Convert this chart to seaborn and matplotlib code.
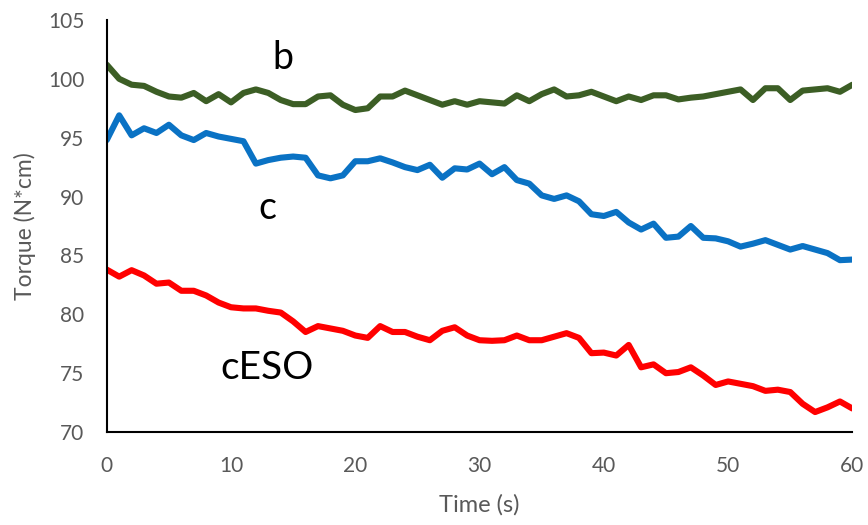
import numpy as np
import pandas as pd
import matplotlib
matplotlib.use("Agg")
import matplotlib.pyplot as plt
import seaborn as sns
from matplotlib.ticker import MultipleLocator

time_s = list(range(0, 61))

torque_b = [101.2, 100.0, 99.5, 99.4, 98.9, 98.5, 98.4, 98.8, 98.1, 98.7,
            98.0, 98.8, 99.1, 98.8, 98.2, 97.85, 97.85, 98.5, 98.6, 97.8,
            97.35, 97.5, 98.5, 98.5, 99.0, 98.6, 98.2, 97.8, 98.1, 97.8,
            98.1, 98.0, 97.9, 98.6, 98.1, 98.7, 99.1, 98.5, 98.6, 98.9,
            98.5, 98.1, 98.5, 98.2, 98.6, 98.6, 98.25, 98.4, 98.5, 98.7,
            98.9, 99.1, 98.2, 99.2, 99.2, 98.2, 99.0, 99.1, 99.2, 98.9,
            99.5]

torque_c = [94.8, 96.9, 95.2, 95.8, 95.4, 96.1, 95.2, 94.8, 95.4, 95.1,
            94.9, 94.7, 92.8, 93.1, 93.3, 93.4, 93.3, 91.8, 91.55, 91.8,
            93.0, 93.0, 93.25, 92.9, 92.5, 92.25, 92.7, 91.6, 92.4, 92.3,
            92.8, 91.9, 92.5, 91.4, 91.1, 90.1, 89.8, 90.1, 89.6, 88.5,
            88.35, 88.7, 87.8, 87.2, 87.7, 86.5, 86.6, 87.5, 86.5, 86.45,
            86.2, 85.75, 86.0, 86.3, 85.9, 85.5, 85.8, 85.5, 85.2, 84.6,
            84.65]

torque_ceso = [83.8, 83.2, 83.75, 83.3, 82.6, 82.7, 82.0, 82.0, 81.6, 81.0,
               80.6, 80.5, 80.5, 80.3, 80.15, 79.4, 78.5, 79.0, 78.8, 78.6,
               78.2, 78.0, 79.0, 78.5, 78.5, 78.1, 77.8, 78.6, 78.9, 78.2,
               77.8, 77.75, 77.8, 78.2, 77.8, 77.8, 78.1, 78.4, 78.0, 76.7,
               76.75, 76.5, 77.4, 75.5, 75.75, 75.0, 75.1, 75.5, 74.8, 74.0,
               74.3, 74.1, 73.9, 73.5, 73.6, 73.4, 72.4, 71.7, 72.1, 72.6,
               72.0]

series_names = ["b", "c", "cESO"]
series_colors = ["#3C5E25", "#0A72C4", "#FF0000"]

df = pd.DataFrame({
    "Time (s)": time_s * 3,
    "Torque (N*cm)": torque_b + torque_c + torque_ceso,
    "series": ["b"] * 61 + ["c"] * 61 + ["cESO"] * 61,
})

sns.set_style("white")
plt.rcParams["font.family"] = ["Lato", "DejaVu Sans"]

fig = plt.figure(figsize=(8.68, 5.25), dpi=100)
ax = fig.add_axes([0.123, 0.177, 0.859, 0.785])

sns.lineplot(data=df, x="Time (s)", y="Torque (N*cm)", hue="series",
             palette=dict(zip(series_names, series_colors)),
             linewidth=4.4, legend=False, ax=ax)
for ln in ax.lines:
    ln.set_solid_joinstyle("round")
    ln.set_solid_capstyle("round")

ax.set_xlim(0, 60)
ax.set_ylim(70, 105)
ax.xaxis.set_major_locator(MultipleLocator(10))
ax.xaxis.set_minor_locator(MultipleLocator(2))
ax.yaxis.set_major_locator(MultipleLocator(5))

gray = "#595959"
ax.tick_params(axis="x", which="both", direction="in", length=5, width=1.2,
               colors="black", labelcolor=gray, labelsize=15, pad=17)
ax.tick_params(axis="y", which="both", direction="in", length=6, width=1.2,
               colors="black", labelcolor=gray, labelsize=15, pad=16)
ax.tick_params(axis="y", which="minor", length=0)

for side in ["top", "right"]:
    ax.spines[side].set_visible(False)
for side in ["left", "bottom"]:
    ax.spines[side].set_color("black")
    ax.spines[side].set_linewidth(1.5)

ax.set_xlabel("Time (s)", fontsize=17, color=gray, labelpad=13)
ax.set_ylabel("Torque (N*cm)", fontsize=16.5, color=gray, labelpad=9)

ax.text(14.2, 101.8, "b", fontsize=27, color="black", ha="center", va="center")
ax.text(12.9, 89.0, "c", fontsize=27, color="black", ha="center", va="center")
ax.text(12.9, 75.4, "cESO", fontsize=28, color="black", ha="center", va="center")

fig.savefig("out.png", dpi=100, facecolor="white")
